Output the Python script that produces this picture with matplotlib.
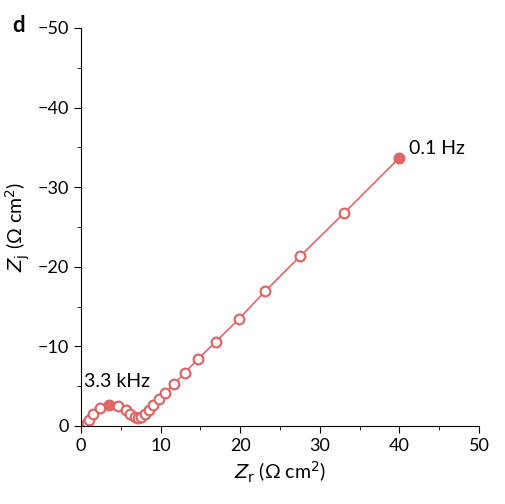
import matplotlib
matplotlib.use("Agg")
import matplotlib.pyplot as plt

plt.rcParams['font.family'] = ['Lato', 'DejaVu Sans']

zr = [0.8, 1.05, 1.55, 2.4, 3.55, 4.7, 5.6, 6.2, 6.8, 7.2, 7.6, 8.0, 8.5, 9.1, 9.8, 10.6, 11.7, 13.05, 14.7, 16.95, 19.8, 23.1, 27.5, 33.1, 40.0]
zj = [-0.35, -0.75, -1.5, -2.25, -2.6, -2.55, -2.0, -1.5, -1.1, -0.95, -1.15, -1.5, -2.0, -2.6, -3.35, -4.2, -5.3, -6.7, -8.4, -10.6, -13.4, -16.9, -21.3, -26.8, -33.7]
filled_idx = [4, 24]
col = '#e06666'

fig = plt.figure(figsize=(5.05, 5.04), dpi=100)
ax = fig.add_axes([81/505, 78/504, 398/505, 398/504])
ax.plot(zr, zj, '-', color=col, lw=1.2, zorder=1)
ax.plot(zr, zj, 'o', ms=7, mfc='white', mec=col, mew=1.6, zorder=2)
ax.plot([zr[i] for i in filled_idx], [zj[i] for i in filled_idx], 'o', ms=7, mfc=col, mec=col, zorder=3)
ax.set_xlim(0, 50)
ax.set_ylim(0, -50)
ax.set_xticks(range(0, 51, 10))
ax.set_yticks(range(0, -51, -10))
ax.set_xticks(range(0, 51, 5), minor=True)
ax.set_yticks(range(0, -51, -5), minor=True)
ax.set_yticklabels(['0'] + ['\u2212%d' % v for v in range(10, 51, 10)])
for s in ['top', 'right']:
    ax.spines[s].set_visible(False)
ax.tick_params(labelsize=13, length=5, direction='out')
ax.tick_params(which='minor', length=3)
ax.set_xlabel('$Z_\\mathrm{r}$ (Ω cm$^2$)', fontsize=14)
ax.set_ylabel('$Z_\\mathrm{j}$ (Ω cm$^2$)', fontsize=14)
ax.text(41.2, -34.2, '0.1 Hz', fontsize=14)
ax.text(0.4, -4.9, '3.3 kHz', fontsize=14)
fig.text(12/505, 1 - 32/504, 'd', fontsize=16, fontweight='bold')
fig.savefig('out.png', dpi=100)
